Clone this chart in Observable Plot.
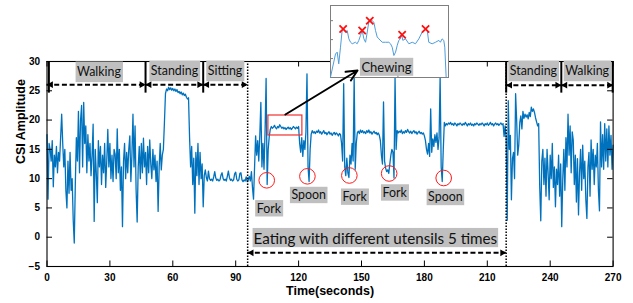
<!DOCTYPE html>
<html><head><meta charset="utf-8">
<script src="https://cdn.jsdelivr.net/npm/d3@7"></script>
<script src="https://cdn.jsdelivr.net/npm/@observablehq/plot@0.6"></script>
<style>
html,body{margin:0;padding:0;background:#fff;}
#chart{position:relative;width:633px;height:303px;}
</style></head><body><div id="chart"></div>
<script>
// ---- signal (CSI amplitude, sampled every 0.5 s) ----
const STEP = 0.5;
const walkingStart = 0;
const walkingAmp = [17.5,6.5,16,15,13,16.5,8.6,14,12,15.5,
 11,14.5,13,17,21,16,12,15,8,5,
 13,7.5,14.5,8,10,3,-1,9,17,13,
 21.5,11,20,22.5,12,23,16,19,11,17.5,
 13,16,10.5,14,19.3,2.7,15,11,5.9,16.5,
 12,15.5,9,14,11,16,8.5,13,18.4,12,
 16,10,14,9.5,15,14.2,10,18.5,11,15,
 8,12,1.8,13,16,10,14.5,11,15,17.3,
 9.5,14,21,12,19,8,2.6,12,15.5,10,
 16,11,16.9,12,14.5,9,15.5,11,16.6,12.5,
 10,15,11.5,14,9.5,13,4.4,12,16,11.5,
 14];
const standingStart = 55.5;
const standingAmp = [15,19.5,24.5,25.3,25.0,25.6,25.2,25.5,25.1,25.4,
 25.0,25.3,24.9,25.2,24.7,24.9,24.5,24.8,24.3,24.6,
 24.2,24.4,23.9,23.6,23.8,17,12,15.5,9,13.5,
 4.1,14.5,10.5,16,9,14.5,10,12.5,5.2,10.5];
const sittingStart = 75.5;
const sittingAmp = [11.5,10.2,9.6,11.3,10.0,9.7,9.9,9.6,10.3,11.2,
 10.1,9.7,9.9,9.6,9.8,10.6,11.0,10.0,9.7,9.9,
 9.6,10.4,11.3,10.2,9.7,9.9,9.6,9.8,10.8,11.1,
 9.9,9.6,9.8,10.9,11.0,9.8,9.5,9.8,9.6,10.3,
 9.5];
const eatingStart = 96;
const eatingAmp = [9.8,10.4,9.6,11.2,8.5,6.5,12,17.3,14,16.5,
 13,17.5,23,12,16,11.6,18,27.1,9,15,
 17.2,18.4,18.9,18.6,18.8,19.1,18.7,18.5,18.9,18.7,
 19.2,18.9,18.6,18.8,18.5,18.7,18.4,18.6,18.8,18.5,
 18.7,18.4,18.6,18.9,18.7,18.5,18.8,18.6,18.9,16,
 14.5,17,13.8,16.5,15,18,27.9,12,9.5,15,
 17.6,18.2,17.8,18.0,17.7,18.1,17.9,18.3,17.8,18.0,
 17.6,17.9,18.2,17.7,17.9,17.5,17.8,18.0,17.6,17.8,
 17.4,17.7,17.9,17.5,17.8,17.6,17.3,17.7,17.5,16,
 13,26.2,12,10.5,13.5,11,10.2,14,12.5,16,
 13,27.4,11.6,16,17.8,18.1,17.7,18.3,17.9,18.2,
 17.8,18.0,17.7,18.2,17.9,18.3,17.8,18.0,17.6,17.9,
 18.1,17.7,17.9,17.5,17.8,17.4,16.5,14,12.5,23.1,
 13,11.8,11.2,11.5,10.9,12.5,14,15,14.5,10.1,
 27.2,15,18.2,17.8,18.1,17.9,18.3,17.7,18.0,17.8,
 18.2,17.9,18.4,18.0,17.8,18.1,17.7,18.0,18.2,17.8,
 18.0,17.6,17.9,18.1,17.7,17.9,17.6,17.8,17.3,16.5,
 15,14.2,16,13.8,21.9,14.5,16.8,15.5,17.5,16.2,
 17.8,15,17,27.4,12,9.5,15,19.6,19.0,19.4,
 19.2,19.5,19.3,19.6,19.2,19.4,19.1,19.5,19.3,19.0,
 19.4,19.2,19.5,19.3,19.1,19.4,19.2,19.6,19.3,19.0,
 19.4,19.2,19.5,19.1,19.3,19.0,19.4,19.2,19.5,19.3,
 19.1,19.4,19.2,19.5,19.3,19.0,19.4,19.2,19.5,19.1,
 19.3,19.6,19.2,19.4,19.0,19.3,19.5,19.2,19.4,19.1,
 19.3,19.5,19.2,19.4,17.2,19.0];
const standing2Start = 219;
const standing2Amp = [17,2.9,23.3,15,17.4,6.4,13.4,14.5,10,24.5,
 20,14,15.7,19.6,20.7,18.5,21.5,20.3,21,20.5,
 20.9,20.2,21.3,20.6,22.2,21.5,21.9,21.3,20.4,19.7,
 19,19.4,8.6,2.8,13,15,9,13.5,7,15,
 11,6.4,14,10,16,8.5,12,5.2,11.6,9,
 14,7,12.5];
const walking2Start = 245.5;
const walking2Amp = [1.8,10,15,8,17,12,21,14,19,11,
 18,16.6,9,14,6,13.4,3.8,11,15,
 8,15.7,10,13,6.4,3.2,12,14.5,7,16.6,
 11.6,15,9,14,12,16,8,4.5,19.7,12,
 17.5,11.6,19.4,13,18.5,12,19,14,17.4,11.6,
 15.7];

// ---- annotations ----
const activityNames = ["Walking","Standing","Sitting","Standing","Walking"];
const activityFrom  = [0, 47, 74.5, 219, 245.3];
const activityTo    = [47, 74.5, 95.7, 245.3, 270];
const activityLabelT = [24.8, 60.8, 84.9, 232, 257.6];
const activityLabelV = [28.15, 28.3, 28.3, 28.3, 28.3];
const activityArrowV = [26.05, 26.05, 26.05, 25.95, 25.95];
const dividerT = [0.9, 47, 74.5, 219, 245.3, 269.8];
const dottedT = [95.7, 219];
const eatingText = ["Eating with different utensils 5 times"];
const eatingFrom = [95.7], eatingTo = [219], eatingArrowV = [-2.66];
const eatingLabelT = [156.6], eatingLabelV = [-0.25];
const utensilNames = ["Fork","Spoon","Fork","Fork","Spoon"];
const utensilCircleT = [104.8, 124.2, 144.2, 163.2, 189.2];
const utensilCircleV = [9.72, 10.4, 10.54, 10.88, 10.11];
const utensilLabelT = [105.8, 124.8, 146.7, 165.8, 190.0];
const utensilLabelV = [4.85, 7.12, 6.83, 7.55, 6.78];
const chewBox = [{t1: 105.6, t2: 121.8, v1: 17.37, v2: 20.78}];
const chewArrow = [{t1: 113.7, v1: 20.95, t2: 148.1, v2: 28.46}];
const xTicks = [0,30,60,90,120,150,180,210,240,270];
const yTicks = [-5,0,5,10,15,20,25,30];

// ---- inset (zoom on chewing) ----
const insetTime = [0,0.297,0.397,0.49,0.593,0.69,0.79,0.89,0.99,1.09,1.19,1.29,1.48,1.58,1.68,1.78,1.88,1.98,2.08,2.18,2.27,2.37,2.47,2.57,2.67,2.77,2.87,3.07,3.26,3.46,3.56,3.66,3.76,3.86,3.96,4.05,4.15,4.21,4.29,4.45,4.65,4.85,5.04,5.24,5.44,5.64,5.74,5.83,6.03,6.23,6.43,6.52,6.62,6.72,6.78,6.86];
const insetAmp = [17.51,18.12,18.17,17.86,18.30,18.74,18.78,18.70,18.74,18.52,18.43,18.39,18.43,18.39,18.48,18.61,18.74,18.52,18.43,18.70,18.96,19.0,19.0,18.96,18.74,18.57,18.52,18.43,18.43,18.43,18.39,18.30,18.08,18.17,18.35,18.48,18.52,18.65,18.48,18.52,18.39,18.43,18.39,18.52,18.70,18.78,18.74,18.43,18.39,18.43,18.48,18.43,18.52,18.48,18.30,17.51];
const peakTime = [0.75, 1.88, 2.33, 4.25, 5.64];
const peakAmp = [18.78, 18.74, 19.0, 18.63, 18.78];
const insetYTicks = [18, 18.5, 19];
const insetXTicks = [4];

// ---- build ----
const segments = [
  [walkingStart, walkingAmp], [standingStart, standingAmp], [sittingStart, sittingAmp],
  [eatingStart, eatingAmp], [standing2Start, standing2Amp], [walking2Start, walking2Amp]
];
const signal = segments.flatMap(([s, vals]) => vals.map((v, i) => ({t: s + i * STEP, v})));
const actIdx = d3.range(activityNames.length);
const utIdx = d3.range(utensilNames.length);

const W = 633, H = 303, mL = 46.5, mR = 20.4, mT = 61, mB = 37;
const pw = W - mL - mR, ph = H - mT - mB;
const labelFont = "Lato, 'Open Sans', sans-serif";
const smallLabel = 12.4, bigLabel = 15.2;
const headR = 2.5, headOff = 3.9;

const main = Plot.plot({
  width: W, height: H, marginLeft: mL, marginRight: mR, marginTop: mT, marginBottom: mB,
  x: {domain: [0, 270]}, y: {domain: [-5, 30]},
  style: {fontFamily: "'Liberation Sans', Arial, sans-serif", background: "#fff", overflow: "visible"},
  marks: [
    Plot.axisX(xTicks, {tickSize: 0, tickPadding: 7, fontSize: 10, fontWeight: "bold", label: null, fill: "#000"}),
    Plot.axisY(yTicks, {tickSize: 0, tickPadding: 7, fontSize: 10, fontWeight: "bold", label: null, fill: "#000"}),
    Plot.line(signal, {x: "t", y: "v", stroke: "#0072bd", strokeWidth: 1.3}),
    // activity arrows
    Plot.ruleY(actIdx, {y: i => activityArrowV[i], x1: i => activityFrom[i], x2: i => activityTo[i], stroke: "#000", strokeWidth: 2, strokeDasharray: "5,2.7"}),
    Plot.dot(actIdx, {x: i => activityFrom[i], y: i => activityArrowV[i], symbol: "triangle", rotate: -90, r: headR, fill: "#000", stroke: "none", dx: headOff}),
    Plot.dot(actIdx, {x: i => activityTo[i], y: i => activityArrowV[i], symbol: "triangle", rotate: 90, r: headR, fill: "#000", stroke: "none", dx: -headOff}),
    Plot.ruleX(dividerT, {x: d => d, y1: 30, y2: 24.6, stroke: "#000", strokeWidth: 2}),
    Plot.ruleX(dottedT, {x: d => d, y1: -5, y2: 30, stroke: "#000", strokeWidth: 1.5, strokeDasharray: "1.5,1.5"}),
    // eating arrow
    Plot.ruleY([0], {y: i => eatingArrowV[i], x1: i => eatingFrom[i], x2: i => eatingTo[i], stroke: "#000", strokeWidth: 2, strokeDasharray: "5,2.7"}),
    Plot.dot([0], {x: i => eatingFrom[i], y: i => eatingArrowV[i], symbol: "triangle", rotate: -90, r: headR, fill: "#000", stroke: "none", dx: headOff}),
    Plot.dot([0], {x: i => eatingTo[i], y: i => eatingArrowV[i], symbol: "triangle", rotate: 90, r: headR, fill: "#000", stroke: "none", dx: -headOff}),
    // utensil markers
    Plot.rect(chewBox, {x1: "t1", x2: "t2", y1: "v1", y2: "v2", fill: "none", stroke: "#f03030", strokeWidth: 1.2}),
    Plot.dot(utIdx, {x: i => utensilCircleT[i], y: i => utensilCircleV[i], r: 7.8, stroke: "#ff1a1a", strokeWidth: 1, fill: "none"}),
    // ticks and box
    Plot.tickX(xTicks, {x: d => d, insetTop: ph - 5.5, stroke: "#000"}),
    Plot.tickX(xTicks, {x: d => d, insetBottom: ph - 5.5, stroke: "#000"}),
    Plot.tickY(yTicks, {y: d => d, insetRight: pw - 5.5, stroke: "#000"}),
    Plot.tickY(yTicks, {y: d => d, insetLeft: pw - 5.5, stroke: "#000"}),
    Plot.frame({stroke: "#000", strokeWidth: 1.1}),
    // labels
    Plot.text(actIdx, {x: i => activityLabelT[i], y: i => activityLabelV[i], text: i => activityNames[i], fontFamily: labelFont, fontSize: smallLabel, fill: "#111"}),
    Plot.text(utIdx, {x: i => utensilLabelT[i], y: i => utensilLabelV[i], text: i => utensilNames[i], fontFamily: labelFont, fontSize: smallLabel, fill: "#111"}),
    Plot.text([0], {x: i => eatingLabelT[i], y: i => eatingLabelV[i], text: i => eatingText[i], fontFamily: labelFont, fontSize: bigLabel, fill: "#111"}),
    Plot.text(["Time(seconds)"], {frameAnchor: "bottom", dy: 28, fontSize: 12.5, fontWeight: "bold", fill: "#000"}),
    Plot.text(["CSI Amplitude"], {frameAnchor: "left", dx: -26.5, rotate: -90, fontSize: 12.5, fontWeight: "bold", fill: "#000"}),
    Plot.arrow(chewArrow, {x1: "t1", y1: "v1", x2: "t2", y2: "v2", stroke: "#000", strokeWidth: 2, headLength: 9, headAngle: 50})
  ]
});
document.getElementById("chart").appendChild(main);

const insetPts = insetTime.map((t, i) => ({t, v: insetAmp[i]}));
const peaks = peakTime.map((t, i) => ({t, v: peakAmp[i]}));
const IW = 118, IH = 72;
const inset = Plot.plot({
  width: IW, height: IH, margin: 0,
  x: {domain: [0, 7], axis: null}, y: {domain: [17.5, 19.4], axis: null},
  style: {background: "transparent", overflow: "visible"},
  marks: [
    Plot.frame({fill: "#fff", stroke: "#7f7f7f"}),
    Plot.tickY(insetYTicks, {y: d => d, insetRight: IW - 3, stroke: "#7f7f7f"}),
    Plot.tickX(insetXTicks, {x: d => d, insetTop: IH - 3, stroke: "#7f7f7f"}),
    Plot.line(insetPts, {x: "t", y: "v", stroke: "#4d9ddb", strokeWidth: 1}),
    Plot.dot(peaks, {x: "t", y: "v", symbol: "times", r: 3.4, stroke: "#ff1010", strokeWidth: 1.8}),
    Plot.text(["Chewing"], {x: 3.32, y: 17.76, fontFamily: labelFont, fontSize: smallLabel + 0.6, fill: "#111"})
  ]
});
inset.setAttribute("x", 330);
inset.setAttribute("y", 5);
inset.style.width = IW + "px";
inset.style.height = IH + "px";
inset.style.overflow = "visible";
main.appendChild(inset);
// keep the pointer arrow above the inset
main.querySelectorAll('g[aria-label="arrow"]').forEach(g => main.appendChild(g));

// grey label boxes behind the annotation texts
const pads = new Map([
  ["Walking", [1.5, 2.8]], ["Standing", [1.5, 2.8]], ["Sitting", [1.5, 2.8]],
  ["Fork", [1.5, 0.7]], ["Spoon", [1.5, 0.7]], ["Chewing", [1.5, 1]],
  [eatingText[0], [1, 0.6]]
]);
main.querySelectorAll("text").forEach(t => {
  const p = pads.get(t.textContent);
  if (!p) return;
  const b = t.getBBox();
  const r = document.createElementNS("http://www.w3.org/2000/svg", "rect");
  r.setAttribute("x", b.x - p[0]);
  r.setAttribute("y", b.y - p[1]);
  r.setAttribute("width", b.width + 2 * p[0]);
  r.setAttribute("height", b.height + 2 * p[1]);
  r.setAttribute("fill", "#bfbfbf");
  if (t.getAttribute("transform")) r.setAttribute("transform", t.getAttribute("transform"));
  t.parentNode.insertBefore(r, t);
});
</script>
</body></html>
